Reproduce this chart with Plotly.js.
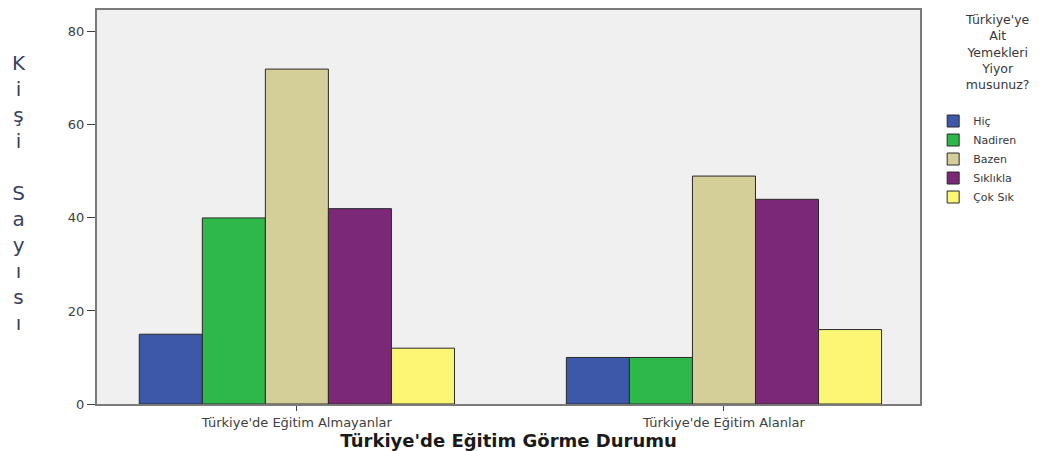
<!DOCTYPE html>
<html>
<head>
<meta charset="utf-8">
<script src="https://cdn.plot.ly/plotly-3.0.1.min.js"></script>
<style>
  html, body { margin: 0; padding: 0; background: #fff; }
  #chart { width: 1063px; height: 451px; }
</style>
</head>
<body>
<div id="chart"></div>
<script>
var groups = ["Türkiye'de Eğitim Almayanlar", "Türkiye'de Eğitim Alanlar"];
var answers = ["Hiç", "Nadiren", "Bazen", "Sıklıkla", "Çok Sık"];
var hic = [15, 10];
var nadiren = [40, 10];
var bazen = [72, 49];
var siklikla = [42, 44];
var cokSik = [12, 16];
var colors = ["#3d57a9", "#2fb84a", "#d4cf98", "#7c2878", "#fbf774"];
var legendTitle = "Türkiye'ye<br>Ait<br>Yemekleri<br>Yiyor<br>musunuz?";
var yTitle = 'K<br>i<br>ş<br>i<br><br>S<br>a<br>y<br>ı<br>s<br>ı';

var values = [hic, nadiren, bazen, siklikla, cokSik];

var data = answers.map(function(name, i) {
  return {
    type: 'bar',
    name: name,
    x: groups,
    y: values[i],
    marker: { color: colors[i], line: { color: '#2a2a2a', width: 1 } }
  };
});

var layout = {
  width: 1063,
  height: 451,
  margin: { l: 97, r: 143, t: 10, b: 47 },
  paper_bgcolor: '#ffffff',
  plot_bgcolor: '#f0f0f0',
  font: { family: 'DejaVu Sans, sans-serif', color: '#404040', size: 12 },
  barmode: 'group',
  bargap: 0.262,
  bargroupgap: 0,
  showlegend: true,
  legend: {
    x: 1.016, xanchor: 'left',
    y: 0.755, yanchor: 'top',
    bgcolor: 'rgba(0,0,0,0)',
    font: { size: 11, color: '#383838', family: 'DejaVu Sans, sans-serif' },
    tracegroupgap: 0,
    itemwidth: 30
  },
  xaxis: {
    type: 'category',
    range: [-0.468, 1.459],
    showgrid: false,
    zeroline: false,
    showline: true,
    mirror: true,
    linecolor: '#7a7a7a',
    linewidth: 2,
    ticks: 'outside',
    ticklen: 5,
    tickcolor: '#404040',
    tickfont: { size: 13, color: '#404040' },
    title: {
      text: "Türkiye'de Eğitim Görme Durumu",
      font: { size: 18, color: '#1a1a1a', family: 'DejaVu Sans, sans-serif', weight: 'bold' },
      standoff: 6
    }
  },
  yaxis: {
    range: [0, 84.7],
    tickvals: [0, 20, 40, 60, 80],
    showgrid: false,
    zeroline: false,
    showline: true,
    mirror: true,
    linecolor: '#7a7a7a',
    linewidth: 2,
    ticks: 'outside',
    ticklen: 8,
    tickcolor: '#404040',
    tickfont: { size: 13, color: '#404040' }
  },
  annotations: [{
    xref: 'paper', yref: 'paper',
    x: -0.095, y: 0.535,
    xanchor: 'center', yanchor: 'middle',
    showarrow: false,
    align: 'center',
    text: yTitle,
    font: { size: 20, color: '#3a3f5e', family: 'DejaVu Sans, sans-serif' }
  }, {
    xref: 'paper', yref: 'paper',
    x: 1.0936, y: 1.0,
    xanchor: 'center', yanchor: 'top',
    showarrow: false,
    align: 'center',
    text: legendTitle,
    font: { size: 12.5, color: '#383838', family: 'DejaVu Sans, sans-serif' }
  }]
};

Plotly.newPlot('chart', data, layout, { displayModeBar: false, staticPlot: true });
</script>
</body>
</html>
